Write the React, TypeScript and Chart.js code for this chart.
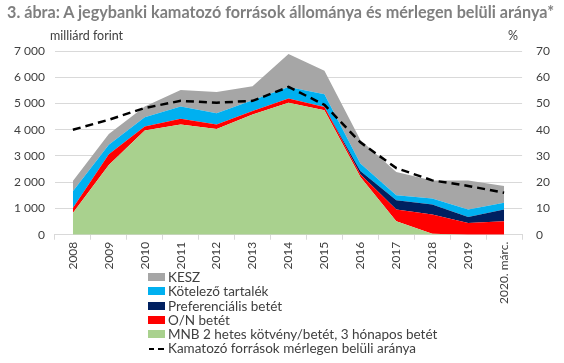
import React, { useEffect, useRef } from "react";
import { Chart, registerables } from "chart.js";

Chart.register(...registerables);

const categories = ["2008", "2009", "2010", "2011", "2012", "2013", "2014", "2015", "2016", "2017", "2018", "2019", "2020. márc."];
const mnb = [830, 2660, 3970, 4200, 4030, 4580, 5030, 4740, 2200, 510, 40, 0, 0];
const onBetet = [190, 410, 150, 220, 170, 130, 160, 130, 100, 450, 730, 450, 510];
const pref = [0, 0, 0, 0, 0, 0, 0, 0, 130, 350, 380, 230, 450];
const kotelezo = [640, 360, 360, 470, 430, 410, 440, 480, 280, 190, 230, 280, 260];
const kesz = [390, 410, 410, 620, 810, 540, 1260, 900, 900, 890, 690, 1110, 640];
const arany = [40, 43.8, 48.3, 51, 50.3, 51, 56.3, 49.5, 35.2, 25.4, 20.7, 18.6, 16];

const leftTicks = [0, 1000, 2000, 3000, 4000, 5000, 6000, 7000];
const rightTicks = [0, 10, 20, 30, 40, 50, 60, 70];

const FONT = "Lato, 'Open Sans', sans-serif";
const TXT = "#404040";

const colors = {
  kesz: "#a6a6a6",
  kot: "#00b0f0",
  pref: "#002060",
  on: "#ff0000",
  mnb: "#a9d18e",
};

const legendItems = [
  { label: "KESZ", color: colors.kesz },
  { label: "Kötelező tartalék", color: colors.kot },
  { label: "Preferenciális betét", color: colors.pref },
  { label: "O/N betét", color: colors.on },
  { label: "MNB 2 hetes kötvény/betét, 3 hónapos betét", color: colors.mnb },
];

export default function App() {
  const ref = useRef<HTMLCanvasElement | null>(null);

  useEffect(() => {
    if (!ref.current) return;
    const area = (label: string, data: number[], color: string, fill: any) => ({
      type: "line" as const,
      label,
      data,
      backgroundColor: color,
      borderColor: color,
      borderWidth: 0,
      pointRadius: 0,
      fill,
      tension: 0,
      yAxisID: "y",
      stack: "a",
    });
    const chart = new Chart(ref.current, {
      type: "line",
      data: {
        labels: categories,
        datasets: [
          {
            type: "line",
            label: "Kamatozó források mérlegen belüli aránya",
            data: arany,
            borderColor: "#000000",
            borderWidth: 2.5,
            borderDash: [8, 5],
            pointRadius: 0,
            fill: false,
            yAxisID: "y1",
            order: 0,
          } as any,
          { ...area("MNB 2 hetes kötvény/betét, 3 hónapos betét", mnb, colors.mnb, "origin"), order: 1 },
          { ...area("O/N betét", onBetet, colors.on, "-1"), order: 1 },
          { ...area("Preferenciális betét", pref, colors.pref, "-1"), order: 1 },
          { ...area("Kötelező tartalék", kotelezo, colors.kot, "-1"), order: 1 },
          { ...area("KESZ", kesz, colors.kesz, "-1"), order: 1 },
        ],
      },
      options: {
        animation: false,
        responsive: false,
        maintainAspectRatio: false,
        layout: { padding: { top: 51, bottom: 57, left: 4, right: 0 } },
        plugins: {
          legend: { display: false },
          tooltip: { enabled: false },
          filler: { propagate: false },
        },
        scales: {
          x: {
            type: "category",
            offset: true,
            grid: {
              drawOnChartArea: false,
              drawTicks: true,
              tickLength: 5,
              color: "#d9d9d9",
              offset: true,
            },
            border: { color: "#d9d9d9" },
            ticks: {
              minRotation: 90,
              maxRotation: 90,
              autoSkip: false,
              color: TXT,
              font: { family: FONT, size: 12 },
              padding: 2,
            },
          },
          y: {
            type: "linear",
            position: "left",
            stacked: true,
            min: 0,
            max: 7000,
            afterBuildTicks: (s: any) => {
              s.ticks = leftTicks.map((v) => ({ value: v }));
            },
            ticks: {
              color: TXT,
              font: { family: FONT, size: 12 },
              padding: 10,
              callback: (v: any) => {
                const n = Number(v);
                return n >= 1000 ? `${Math.floor(n / 1000)} ${String(n % 1000).padStart(3, "0")}` : String(n);
              },
            },
            grid: { color: "#d9d9d9", drawTicks: false, lineWidth: 1 },
            border: { display: false },
          },
          y1: {
            type: "linear",
            position: "right",
            stacked: false,
            min: 0,
            max: 70,
            afterBuildTicks: (s: any) => {
              s.ticks = rightTicks.map((v) => ({ value: v }));
            },
            ticks: {
              color: TXT,
              font: { family: FONT, size: 12 },
              padding: 14,
            },
            grid: { drawOnChartArea: false, drawTicks: false },
            border: { display: false },
          },
        },
      },
    });
    return () => chart.destroy();
  }, []);

  return (
    <div style={{ position: "absolute", left: 0, top: 0, width: 564, height: 363, background: "#fff", fontFamily: FONT, overflow: "hidden" }}>
      <canvas ref={ref} width={564} height={363} style={{ position: "absolute", left: 0, top: 0, width: 564, height: 363 }} />
      <div style={{ position: "absolute", left: 7, top: 2, fontSize: 16.2, fontWeight: 700, color: "#7f7f7f", whiteSpace: "nowrap" }}>
        3. ábra: A jegybanki kamatozó források állománya és mérlegen belüli aránya*
      </div>
      <div style={{ position: "absolute", left: 50, top: 28, fontSize: 12.5, color: TXT }}>milliárd forint</div>
      <div style={{ position: "absolute", left: 508, top: 28, fontSize: 12.5, color: TXT }}>%</div>
      <div style={{ position: "absolute", left: 148, top: 270, fontSize: 13.5, color: TXT, lineHeight: "14.3px" }}>
        {legendItems.map((it) => (
          <div key={it.label} style={{ display: "flex", alignItems: "center", whiteSpace: "nowrap" }}>
            <span style={{ display: "inline-block", width: 17, height: 8, background: it.color, marginRight: 3 }} />
            {it.label}
          </div>
        ))}
        <div style={{ display: "flex", alignItems: "center", whiteSpace: "nowrap" }}>
          <span style={{ display: "inline-block", width: 17, height: 8, marginRight: 3, position: "relative" }}>
            <span style={{ position: "absolute", left: 1, top: 3, width: 5, height: 2.5, background: "#000" }} />
            <span style={{ position: "absolute", left: 10, top: 3, width: 6, height: 2.5, background: "#000" }} />
          </span>
          Kamatozó források mérlegen belüli aránya
        </div>
      </div>
    </div>
  );
}
